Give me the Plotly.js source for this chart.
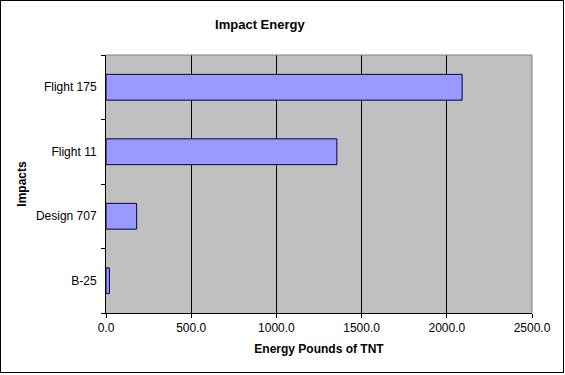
<!DOCTYPE html>
<html>
<head>
<meta charset="utf-8">
<script src="https://cdn.plot.ly/plotly-3.0.1.min.js"></script>
<style>
html,body{margin:0;padding:0;background:#fff;}
#frame{position:absolute;left:0;top:0;width:564px;height:373px;border:1px solid #000;box-sizing:border-box;pointer-events:none;z-index:10;}
#chart{position:absolute;left:0;top:0;width:565px;height:375px;}
</style>
</head>
<body>
<div id="chart"></div>
<div id="frame"></div>
<script>
const categories = ["B-25", "Design 707", "Flight 11", "Flight 175"];
const energy = [20, 180, 1355, 2090];
const xTicks = [0, 500, 1000, 1500, 2000, 2500];

const trace = {
  type: "bar",
  orientation: "h",
  y: categories,
  x: energy,
  marker: {color: "#9999FF", line: {color: "#000040", width: 1}},
  hoverinfo: "x+y"
};

const layout = {
  width: 565, height: 375,
  margin: {l: 106, r: 33, t: 55, b: 62},
  paper_bgcolor: "#FFFFFF",
  plot_bgcolor: "#C0C0C0",
  font: {family: "Liberation Sans, Arial, sans-serif", size: 12, color: "#000"},
  title: {text: "<b>Impact Energy</b>", font: {size: 13}, x: 0.46, xanchor: "center", y: 0.935, yanchor: "middle"},
  bargap: 0.6,
  showlegend: false,
  xaxis: {
    range: [0, 2500],
    tickvals: xTicks,
    tickformat: ".1f",
    showgrid: true, gridcolor: "#000", gridwidth: 1,
    zeroline: false,
    showline: true, linecolor: "#000", linewidth: 1,
    ticks: "outside", ticklen: 4, tickcolor: "#000",
    title: {text: "<b>Energy Pounds of TNT</b>", font: {size: 12}, standoff: 10},
    fixedrange: true
  },
  yaxis: {
    categoryorder: "array", categoryarray: categories,
    showgrid: false, zeroline: false,
    showline: true, linecolor: "#000", linewidth: 1,
    ticks: "outside", ticklen: 4, tickcolor: "#000",
    tickson: "boundaries",
    ticklabelstandoff: 6,
    title: {text: "<b>Impacts</b>", font: {size: 12}, standoff: 6},
    fixedrange: true
  },
  shapes: [
    {type: "line", xref: "paper", yref: "paper", x0: 0, x1: 1, y0: 1, y1: 1, line: {color: "#808080", width: 1}},
    {type: "line", xref: "paper", yref: "paper", x0: 1, x1: 1, y0: 0, y1: 1, line: {color: "#808080", width: 1}}
  ]
};

Plotly.newPlot("chart", [trace], layout, {displayModeBar: false, staticPlot: true});
</script>
</body>
</html>
